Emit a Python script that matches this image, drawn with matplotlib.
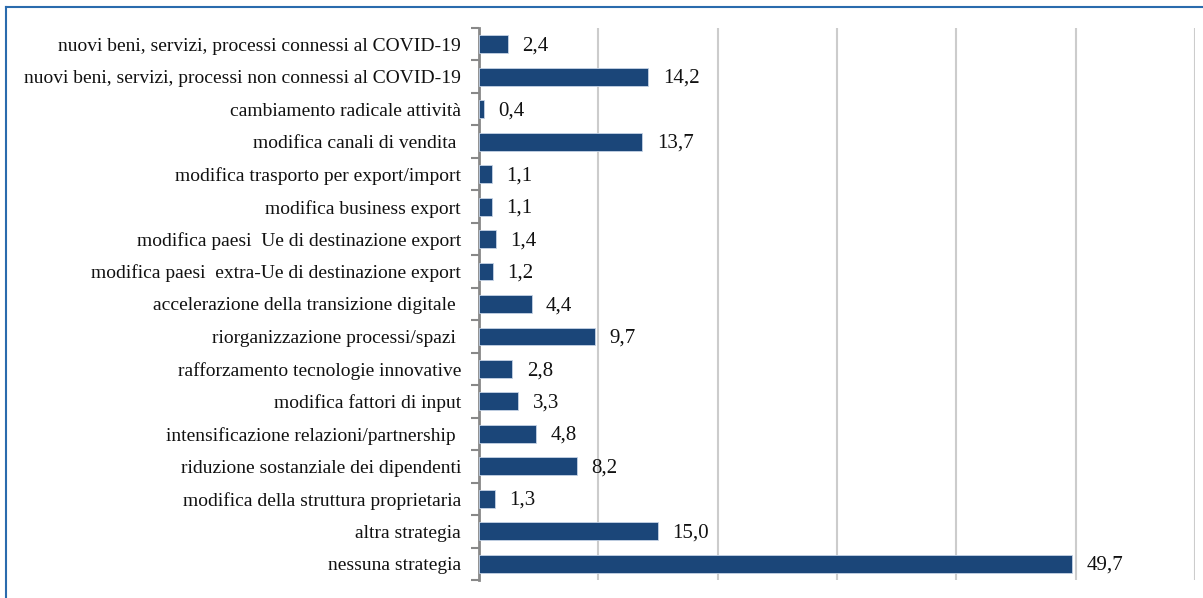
import matplotlib.pyplot as plt
import numpy as np

categorie = [
    "nuovi beni, servizi, processi connessi al COVID-19",
    "nuovi beni, servizi, processi non connessi al COVID-19",
    "cambiamento radicale attività",
    "modifica canali di vendita ",
    "modifica trasporto per export/import",
    "modifica business export",
    "modifica paesi  Ue di destinazione export",
    "modifica paesi  extra-Ue di destinazione export",
    "accelerazione della transizione digitale ",
    "riorganizzazione processi/spazi ",
    "rafforzamento tecnologie innovative",
    "modifica fattori di input",
    "intensificazione relazioni/partnership ",
    "riduzione sostanziale dei dipendenti",
    "modifica della struttura proprietaria",
    "altra strategia",
    "nessuna strategia",
]
valori = [2.4, 14.2, 0.4, 13.7, 1.1, 1.1, 1.4, 1.2, 4.4, 9.7, 2.8, 3.3, 4.8, 8.2, 1.3, 15.0, 49.7]

plt.rcParams['font.family'] = ['Liberation Serif', 'DejaVu Serif']

fig = plt.figure(figsize=(12.03, 5.98), dpi=100)
ax = fig.add_axes([479/1203, 1 - 580/598, (1195 - 479)/1203, (580 - 28)/598])

y = np.arange(len(categorie))
ax.barh(y, valori, height=0.55, color='#1b4679', edgecolor='#c5d3e6', linewidth=0.6, zorder=3)
for yi, v in zip(y, valori):
    ax.text(v + 1.2, yi + 0.05, f"{v:.1f}".replace('.', ','), va='center', ha='left', fontsize=15, color='#111111')

ax.set_xlim(0, 60)
ax.set_ylim(len(categorie) - 0.5, -0.5)
ax.set_xticks([10, 20, 30, 40, 50, 60])
ax.xaxis.grid(True, color='#cccccc', linewidth=1.5, zorder=0)
ax.tick_params(axis='x', length=0, labelbottom=False)

ax.set_yticks(y)
ax.set_yticklabels(categorie, fontsize=14, color='#111111')
ax.set_yticks(np.arange(len(categorie) + 1) - 0.5, minor=True)
ax.tick_params(axis='y', which='major', length=0, pad=13)
ax.tick_params(axis='y', which='minor', length=6, width=1.5, color='#888888')

for s in ['top', 'right', 'bottom']:
    ax.spines[s].set_visible(False)
ax.spines['left'].set_color('#888888')
ax.spines['left'].set_linewidth(2)

# bordo esterno
fig.add_artist(plt.Line2D([6/1203, 1], [1 - 7/598, 1 - 7/598], color='#2a6bad', linewidth=1.5))
fig.add_artist(plt.Line2D([6/1203, 6/1203], [0, 1 - 7/598], color='#2a6bad', linewidth=1.5))

fig.savefig('out.png', dpi=100)
